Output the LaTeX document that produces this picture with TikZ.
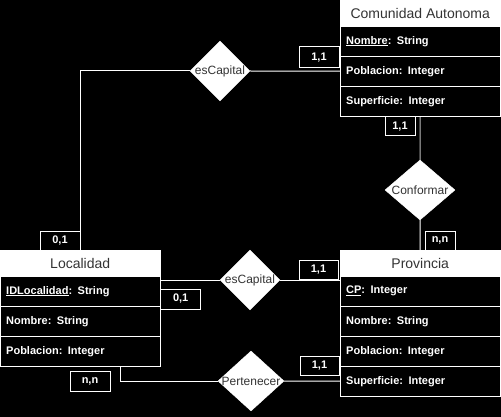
\documentclass[tikz,border=0pt]{standalone}
\usepackage{fontspec}
\setmainfont{Liberation Sans}
\usetikzlibrary{shapes.geometric,calc}
\definecolor{hdr}{HTML}{333333}
\definecolor{softline}{HTML}{BBBBBB}
\pgfdeclarelayer{back}
\pgfdeclarelayer{lines}
\pgfdeclarelayer{front}
\pgfsetlayers{back,lines,main,front}
\begin{document}
\begin{tikzpicture}[x=1pt,y=-1pt,
  ehead/.style={draw=white,fill=white,minimum width=160pt,minimum height=26pt,inner sep=0pt,anchor=north west,text=hdr,font=\fontsize{14}{16}\selectfont},
  attr/.style={draw=white,fill=black,text width=148pt,inner xsep=6pt,inner ysep=0pt,minimum height=30pt,align=left,anchor=north west,text=white,font=\bfseries\fontsize{11}{13}\selectfont},
  rel/.style={diamond,fill=white,draw=white,inner sep=0pt,minimum width=60pt,minimum height=60pt},
  rlabel/.style={text=hdr,font=\fontsize{12}{14}\selectfont,inner sep=0pt},
  card/.style={draw=white,fill=black,text=white,inner sep=0pt,line width=1pt,font=\bfseries\fontsize{11}{13}\selectfont},
  conn/.style={draw=white,line width=1pt}]
\begin{pgfonlayer}{back}
\fill[black] (0,0) rectangle (501,417);
\end{pgfonlayer}
\useasboundingbox (0,0) rectangle (501,417);

% diamonds
\node[rel,label={[rlabel]center:esCapital}] (e1) at (220,71) {};
\node[rel,minimum width=70pt,label={[rlabel]center:Conformar}] (cf) at (420,190) {};
\node[rel,label={[rlabel]center:esCapital}] (e2) at (250,280) {};
\node[rel,minimum width=66pt,label={[rlabel]center:Pertenecer}] (pt) at (251,381) {};

% Comunidad Autonoma
\node[ehead] (comH) at (340,0) {Comunidad Autonoma};
\node[attr] (comN) at (340,26) {\underline{Nombre}: String};
\node[attr] (comP) at (340,56) {Poblacion: Integer};
\node[attr] (comS) at (340,86) {Superficie: Integer};

% Localidad
\node[ehead] (locH) at (0,250) {Localidad};
\node[attr] (locI) at (0,276) {\underline{IDLocalidad}: String};
\node[attr] (locN) at (0,306) {Nombre: String};
\node[attr] (locP) at (0,336) {Poblacion: Integer};

% Provincia
\node[ehead] (prH) at (340,250) {Provincia};
\node[attr] (prC) at (340,276) {\underline{CP}: Integer};
\node[attr] (prN) at (340,306) {Nombre: String};
\node[attr] (prP) at (340,336) {Poblacion: Integer};
\node[attr] (prS) at (340,366) {Superficie: Integer};

% connectors
\begin{pgfonlayer}{lines}
\draw[conn] (locH.north) |- (e1.west);
\draw[conn] (e1.east) -- (comP.west);
\draw[conn,draw=softline] (comS.south) -- (cf.north);
\draw[conn] (cf.south) -- (prH.north);
\draw[conn] (locI.east |- e2.west) -- (e2.west);
\draw[conn] (e2.east) -- (prC.west |- e2.east);
\draw[conn] ([xshift=-40pt]locP.south east) |- (pt.west);
\draw[conn] (pt.east) -- (prS.west);
\end{pgfonlayer}

% cardinalities
\begin{pgfonlayer}{front}
\node[card,minimum width=40pt,minimum height=21pt] (k1) at (319,57.5) {1,1};
\node[card,minimum width=30pt,minimum height=19pt] (k2) at (400,126.5) {1,1};
\node[card,minimum width=30pt,minimum height=19pt] (k3) at (440,240.5) {n,n};
\node[card,minimum width=40pt,minimum height=19pt] (k4) at (60,240.5) {0,1};
\node[card,minimum width=40pt,minimum height=20pt] (k5) at (180.7,299) {0,1};
\node[card,minimum width=39pt,minimum height=18.5pt] (k6) at (318.5,270) {1,1};
\node[card,minimum width=40pt,minimum height=20pt] (k7) at (90,381.7) {n,n};
\node[card,minimum width=39pt,minimum height=18.5pt] (k8) at (319.5,366) {1,1};
\end{pgfonlayer}
\end{tikzpicture}
\end{document}
